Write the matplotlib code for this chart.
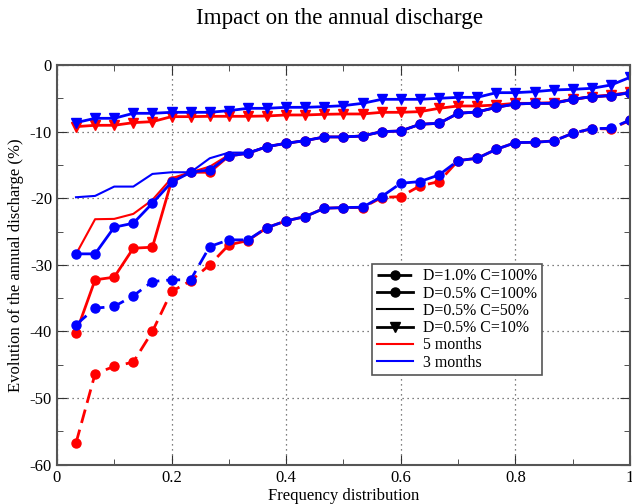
import matplotlib
matplotlib.use("Agg")
import matplotlib.pyplot as plt
from matplotlib.lines import Line2D
import numpy as np

plt.rcParams["font.family"] = ["Liberation Serif", "DejaVu Serif"]
plt.rcParams["axes.unicode_minus"] = False

# frequency distribution: 30 classes, i/30
freq = np.arange(1, 31) / 30.0

# D=1.0% C=100% (dashed, circles)
d10_c100_5m = [-56.75, -46.35, -45.25, -44.6, -40.0, -34.0, -32.4, -30.0, -27.0, -26.35,
               -24.4, -23.4, -22.75, -21.5, -21.4, -21.4, -19.9, -19.75, -18.15, -17.5,
               -14.35, -14.0, -12.65, -11.65, -11.6, -11.4, -10.25, -9.55, -9.6, -8.3]
d10_c100_3m = [-39.0, -36.5, -36.25, -34.65, -32.5, -32.25, -32.25, -27.25, -26.25, -26.25,
               -24.4, -23.4, -22.75, -21.5, -21.4, -21.35, -19.75, -17.75, -17.5, -16.5,
               -14.35, -14.0, -12.65, -11.65, -11.6, -11.4, -10.25, -9.55, -9.5, -8.25]

# D=0.5% C=100% (solid, circles)
d05_c100_5m = [-40.25, -32.25, -31.85, -27.5, -27.35, -17.4, -16.1, -16.1, -13.65, -13.25,
               -12.25, -11.75, -11.35, -10.8, -10.8, -10.65, -10.0, -9.9, -8.9, -8.75,
               -7.25, -7.05, -6.35, -5.85, -5.75, -5.75, -5.15, -4.75, -4.6, -4.15]
d05_c100_3m = [-28.35, -28.35, -24.35, -23.75, -20.75, -17.6, -16.1, -15.75, -13.65, -13.25,
               -12.25, -11.75, -11.35, -10.8, -10.8, -10.65, -10.0, -9.9, -8.9, -8.75,
               -7.25, -7.05, -6.35, -5.85, -5.75, -5.75, -5.15, -4.75, -4.6, -4.15]

# D=0.5% C=50% (thin solid)
d05_c50_5m = [-28.4, -23.15, -23.1, -22.35, -20.25, -17.0, -16.1, -15.25, -13.5, -13.2,
              -12.25, -11.75, -11.35, -10.8, -10.8, -10.65, -10.0, -9.9, -8.9, -8.75,
              -7.25, -7.05, -6.35, -5.85, -5.75, -5.75, -5.15, -4.75, -4.6, -4.15]
d05_c50_3m = [-19.85, -19.65, -18.25, -18.25, -16.35, -16.1, -16.1, -14.0, -13.15, -13.15,
              -12.25, -11.75, -11.35, -10.8, -10.8, -10.65, -10.0, -9.9, -8.9, -8.75,
              -7.25, -7.05, -6.35, -5.85, -5.75, -5.75, -5.15, -4.75, -4.6, -4.15]

# D=0.5% C=10% (solid, triangles)
d05_c10_5m = [-9.25, -9.05, -9.05, -8.65, -8.5, -7.75, -7.75, -7.7, -7.7, -7.7,
              -7.65, -7.5, -7.5, -7.4, -7.35, -7.35, -7.1, -7.1, -7.0, -6.5,
              -6.15, -6.15, -6.0, -5.75, -5.75, -5.65, -5.15, -4.75, -4.5, -4.1]
d05_c10_3m = [-8.65, -8.0, -8.0, -7.25, -7.25, -7.1, -7.1, -7.1, -6.85, -6.5,
              -6.5, -6.35, -6.35, -6.25, -6.1, -5.75, -5.15, -5.15, -5.15, -5.0,
              -4.85, -4.85, -4.15, -4.15, -4.0, -3.75, -3.65, -3.5, -3.0, -1.85]

RED = "#ff0000"
BLUE = "#0000ff"
DASH = (0, (5, 2.5))

fig = plt.figure(figsize=(6.32, 5.04), dpi=100)
ax = fig.add_axes([0.090, 0.078, 0.907, 0.793])

for color, series in [(RED, (d10_c100_5m, d05_c100_5m, d05_c50_5m, d05_c10_5m)),
                      (BLUE, (d10_c100_3m, d05_c100_3m, d05_c50_3m, d05_c10_3m))]:
    dashed, circ, thin, tri = series
    ax.plot(freq, dashed, color=color, lw=2, linestyle=DASH, marker="o", ms=6.5)
    ax.plot(freq, circ, color=color, lw=2, marker="o", ms=6.5)
    ax.plot(freq, thin, color=color, lw=1.5)
    ax.plot(freq, tri, color=color, lw=2, marker="v", ms=7)

ax.set_xlim(0, 1)
ax.set_ylim(-60, 0)
ax.set_xticks([0, 0.2, 0.4, 0.6, 0.8, 1.0])
ax.set_xticklabels(["0", "0.2", "0.4", "0.6", "0.8", "1"])
ax.set_yticks(range(-60, 1, 10))
ax.set_yticklabels([str(v) for v in range(-60, 1, 10)])
ax.set_xticks(np.arange(0, 1.01, 0.1), minor=True)
ax.set_yticks(range(-60, 1, 5), minor=True)
ax.tick_params(which="both", direction="in", top=True, right=True, labelsize=12,
               color="#333333")
ax.tick_params(which="major", length=7)
ax.tick_params(which="minor", length=4)
ax.grid(True, which="major", linestyle=(0, (1, 3)), color="#555555", lw=0.9)
for sp in ax.spines.values():
    sp.set_color("#555555")
    sp.set_linewidth(1.5)

ax.set_xlabel("Frequency distribution", fontsize=12, labelpad=2)
ax.set_ylabel("Evolution of the annual discharge (%)", fontsize=12, labelpad=4)
fig.text(0.538, 0.963, "Impact on the annual discharge", fontsize=16.6,
         ha="center", va="center")

handles = [
    Line2D([], [], color="k", lw=2, linestyle=DASH, marker="o", ms=6.5),
    Line2D([], [], color="k", lw=2, marker="o", ms=6.5),
    Line2D([], [], color="k", lw=1.5),
    Line2D([], [], color="k", lw=2, marker="v", ms=7),
    Line2D([], [], color=RED, lw=1.5),
    Line2D([], [], color=BLUE, lw=1.5),
]
labels = ["D=1.0% C=100%", "D=0.5% C=100%", "D=0.5% C=50%", "D=0.5% C=10%",
          "5 months", "3 months"]
leg = ax.legend(handles, labels, loc="upper left", bbox_to_anchor=(0.550, 0.503),
                fontsize=11.4, frameon=True, fancybox=False, framealpha=1,
                handlelength=2.3, labelspacing=0.08, borderpad=0.3, handletextpad=0.6,
                borderaxespad=0)
leg.get_frame().set_edgecolor("#555555")
leg.get_frame().set_linewidth(1.2)

fig.savefig("out.png")
